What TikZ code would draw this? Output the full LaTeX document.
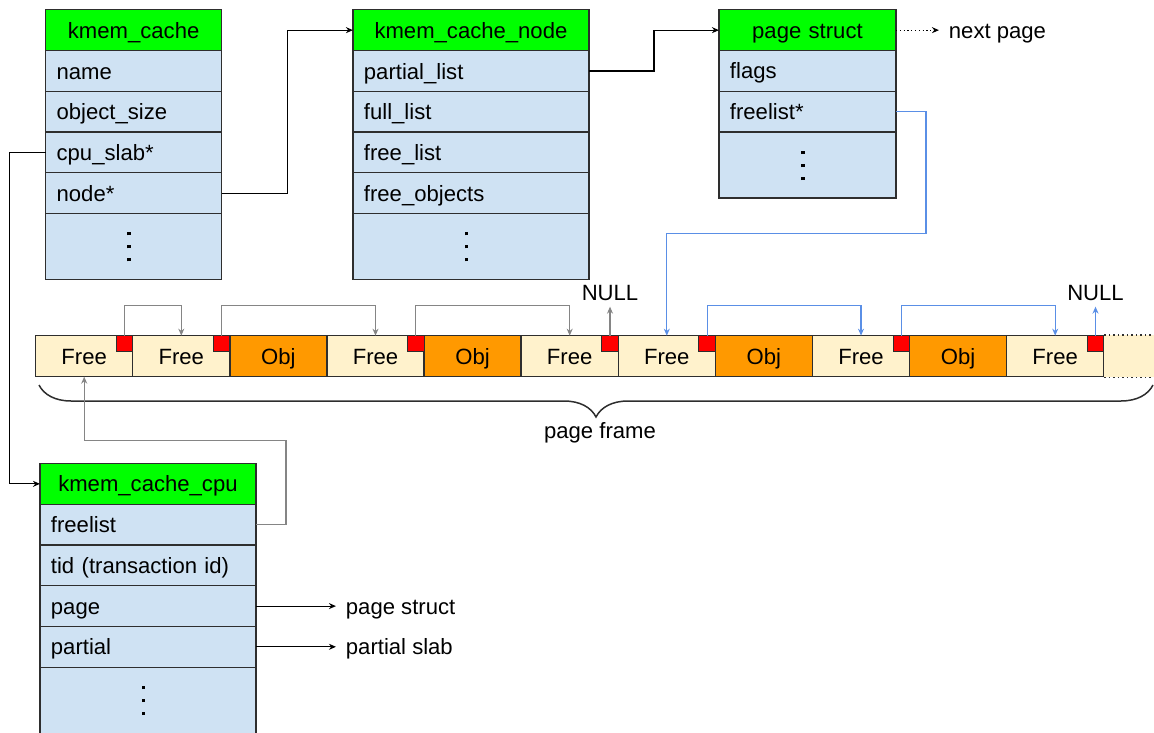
\documentclass[tikz,border=0pt]{standalone}
\usepackage{fontspec}
\setmainfont{Liberation Sans}
\usetikzlibrary{matrix}
\usetikzlibrary{positioning}
\usetikzlibrary{arrows.meta}
\usetikzlibrary{decorations.pathreplacing}
\newcommand{\dotbox}{\hbox{\rule{3.5pt}{3.5pt}}}
\newcommand{\vdts}{\kern-9pt\vbox{\baselineskip=13pt\lineskiplimit=0pt\dotbox\dotbox\dotbox}}

\definecolor{hdrgreen}{HTML}{00FF00}
\definecolor{fieldblue}{HTML}{CFE2F3}
\definecolor{freecream}{HTML}{FFF2CC}
\definecolor{objorange}{HTML}{FF9900}
\definecolor{boxline}{HTML}{2E2E2E}
\definecolor{ptrgray}{HTML}{858585}
\definecolor{ptrblue}{HTML}{5A8FE6}

\tikzset{
  field/.style={draw=boxline, fill=fieldblue, line width=1.3pt, outer sep=0pt,
    inner xsep=11pt, inner ysep=2pt, minimum height=40.7pt, align=left,
    text height=20pt, text depth=4pt, anchor=center},
  hdr/.style={fill=hdrgreen, align=center, minimum height=41pt},
  dotsrow/.style={align=center, minimum height=66pt, text height=30pt, text depth=0pt},
  struct/.style={matrix of nodes, anchor=north west, inner sep=0pt, outer sep=0pt,
    row sep=-1.3pt, nodes={field, text width=#1}},
  cell/.style={draw=boxline, fill=freecream, line width=1.3pt, outer sep=0pt,
    inner sep=0pt, minimum width=97.1pt, minimum height=41pt,
    text height=20pt, text depth=4pt, anchor=center},
  obj/.style={fill=objorange},
  tag/.style={draw=boxline, fill=red, line width=1pt, inner sep=0pt, outer sep=0pt,
    minimum width=16.5pt, minimum height=16pt, anchor=north east},
  ptr/.style={line width=1.1pt, -{Stealth[length=7pt,width=6pt]}},
  sidelabel/.style={inner xsep=10pt, inner ysep=2pt, outer sep=0pt,
    text height=20pt, text depth=4pt},
  nullbox/.style={inner xsep=2pt, inner ysep=6pt, outer sep=0pt},
}

\begin{document}
\begin{tikzpicture}[x=1pt, y=-1pt, font=\fontsize{22.1pt}{27pt}\selectfont]
  \useasboundingbox (0,0) rectangle (1154,733);

  \matrix (kc) [struct=154pt] at (45,9)
  {
    |[hdr]| kmem\_cache \\
    name \\
    object\_size \\
    cpu\_slab* \\
    node* \\
    |[dotsrow]| \vdts \\
  };
  \matrix (kcn) [struct=214pt] at (352.3,9)
  {
    |[hdr]| kmem\_cache\_node \\
    partial\_list \\
    full\_list \\
    free\_list \\
    free\_objects \\
    |[dotsrow]| \vdts \\
  };
  \matrix (ps) [struct=155pt] at (718.3,9)
  {
    |[hdr]| page struct \\
    flags \\
    freelist* \\
    |[dotsrow]| \vdts \\
  };
  \matrix (kcc) [struct=194pt] at (39.3,462.7)
  {
    |[hdr]| kmem\_cache\_cpu \\
    freelist \\
    tid (transaction id) \\
    page \\
    partial \\
    |[dotsrow]| \vdts \\
  };

  % the slab page with its objects
  \matrix (pf) [matrix of nodes, anchor=north west, inner sep=0pt, outer sep=0pt,
    column sep=-1.3pt, nodes={cell}] at (35,335)
  {
    Free & Free & |[obj]| Obj & Free & |[obj]| Obj & Free & Free & |[obj]| Obj & Free & |[obj]| Obj & Free \\
  };
  \coordinate (edge) at (1154,0);
  \fill[freecream] (pf.north east) rectangle (pf.south east -| edge);
  \draw[boxline, line width=1.3pt, dash pattern=on 1.5pt off 3pt]
    (pf.north east) -- (pf.north east -| edge)
    (pf.south east) -- (pf.south east -| edge);
  \foreach \c in {1,2,4,6,7,9,11}
    \node[tag] (t\c) at (pf-1-\c.north east) {};

  \node (null1) [above=29pt of t6.north, nullbox] {NULL};
  \node (null2) [above=29pt of t11.north, nullbox] {NULL};
  \foreach \a/\b in {1/2,2/4,4/6}
    \draw[ptr, ptrgray] (t\a.north) -- ++(0,-30) -| (pf-1-\b.north);
  \draw[ptr, ptrgray] (t6.north) -- (null1);
  \foreach \a/\b in {7/9,9/11}
    \draw[ptr, ptrblue] (t\a.north) -- ++(0,-30) -| (pf-1-\b.north);
  \draw[ptr, ptrblue] (t11.north) -- (null2);

  \draw[boxline, line width=1.5pt, decorate, decoration={brace, mirror, amplitude=32pt}]
    (39,385) -- (1153,385);
  \node (pflabel) at (600,433) {page frame};

  % pointers between the structs
  \path[ptr]
    (kc-5-1.east) edge[to path={-- ++(66,0) |- (\tikztotarget)}] (kcn-1-1.west)
    (kcn-2-1.east) edge[to path={-- ++(65,0) |- (\tikztotarget)}] (ps-1-1.west)
    (kc-4-1.west) edge[to path={-- ++(-36,0) |- (\tikztotarget)}] (kcc-1-1.west);
  \draw[ptr, ptrblue] (ps-3-1.east) -- ++(30,0) -- ++(0,122) -| (pf-1-7.north);
  \draw[ptr, ptrgray] (kcc-2-1.east) -- ++(30,0) -- ++(0,-84) -| (pf-1-1.south);

  \node (nextpg) [right=43pt of ps-1-1.east, sidelabel] {next page};
  \draw[ptr, dash pattern=on 1.3pt off 2.5pt] (ps-1-1.east) -- (nextpg);
  \node (pgref) [right=80pt of kcc-4-1.east, sidelabel] {page struct};
  \draw[ptr] (kcc-4-1.east) -- (pgref);
  \node (slabref) [right=80pt of kcc-5-1.east, sidelabel] {partial slab};
  \draw[ptr] (kcc-5-1.east) -- (slabref);
\end{tikzpicture}
\end{document}
